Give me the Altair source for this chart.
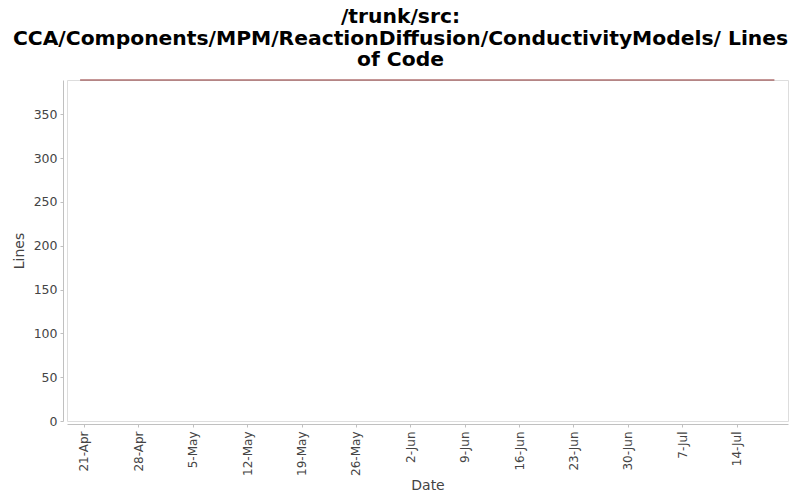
import altair as alt
import pandas as pd

# Data
dates = ["2007-04-20T12:00:00Z", "2007-05-20T00:00:00Z", "2007-06-20T00:00:00Z", "2007-07-18T21:00:00Z"]
lines = [389, 389, 389, 389]

tick_dates = [(2007, 4, 21), (2007, 4, 28), (2007, 5, 5), (2007, 5, 12), (2007, 5, 19),
              (2007, 5, 26), (2007, 6, 2), (2007, 6, 9), (2007, 6, 16), (2007, 6, 23),
              (2007, 6, 30), (2007, 7, 7), (2007, 7, 14)]
y_ticks = [0, 50, 100, 150, 200, 250, 300, 350]

title_lines = ["/trunk/src:", "CCA/Components/MPM/ReactionDiffusion/ConductivityModels/ Lines", "of Code"]

df = pd.DataFrame({"Date": dates, "Lines": lines})

FONT = "DejaVu Sans"

x_enc = alt.X(
    "Date:T",
    title="Date",
    scale=alt.Scale(
        type="utc",
        domain=[alt.DateTime(year=2007, month=4, date=18, hours=19, minutes=30, utc=True),
                alt.DateTime(year=2007, month=7, date=20, hours=15, minutes=0, utc=True)],
        nice=False,
    ),
    axis=alt.Axis(
        values=[alt.DateTime(year=y, month=m, date=d, utc=True) for (y, m, d) in tick_dates],
        labelExpr="utcFormat(datum.value, '%-d-%b')",
        labelAngle=-90,
        labelAlign="right",
        labelBaseline="middle",
        labelPadding=4,
        offset=3,
        grid=False,
        domainColor="#c0c0c0",
        tickColor="#c0c0c0",
        tickSize=3,
        labelColor="#444444",
        labelFontSize=12,
        labelFont=FONT,
        titleFont=FONT,
        titleFontSize=14,
        titleFontWeight="normal",
        titleColor="#444444",
        titlePadding=3,
        labelOverlap=False,
    ),
)

y_enc = alt.Y(
    "Lines:Q",
    title="Lines",
    scale=alt.Scale(domain=[0, 389], nice=False, zero=True),
    axis=alt.Axis(
        values=y_ticks,
        offset=4,
        grid=False,
        domainColor="#c0c0c0",
        tickColor="#c0c0c0",
        tickSize=3,
        labelPadding=3,
        labelColor="#444444",
        labelFontSize=12.5,
        labelFont=FONT,
        titleFont=FONT,
        titleFontSize=14,
        titleFontWeight="normal",
        titleColor="#444444",
        titlePadding=7,
    ),
)

chart = (
    alt.Chart(df)
    .mark_line(color="#8B2E2E", strokeWidth=1.2)
    .encode(x=x_enc, y=y_enc)
    .properties(
        width=721,
        height=341,
        title=alt.TitleParams(
            text=title_lines,
            font=FONT,
            fontSize=20.3,
            fontWeight="bold",
            color="#000000",
            anchor="middle",
            dx=-27,
            offset=7,
            lineHeight=21.7,
        ),
        autosize=alt.AutoSizeParams(type="none"),
        padding={"left": 59, "top": 72, "right": 4, "bottom": 71},
    )
    .configure_view(stroke="#808080", strokeWidth=1)
    .configure(background="white")
)

chart.save("out.html", embed_options={"renderer": "svg", "actions": False})
